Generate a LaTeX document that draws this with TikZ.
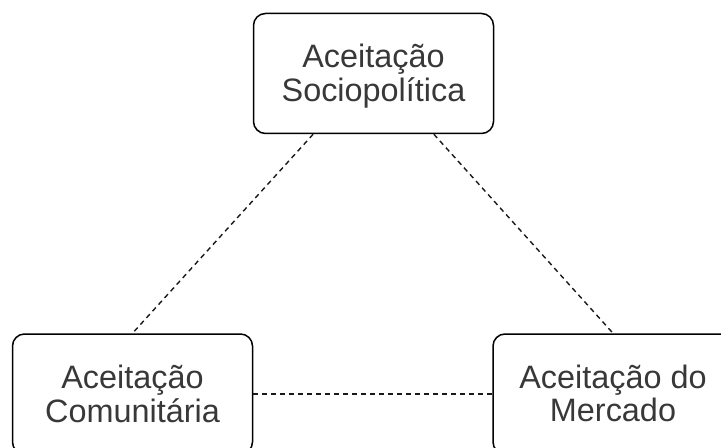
\documentclass[tikz,border=0pt]{standalone}
\usepackage{fontspec}
\setmainfont{Liberation Sans}
\usetikzlibrary{calc}
\newcommand{\twolines}[2]{\raisebox{-6.5pt}[0pt][0pt]{\begin{tabular}{@{}c@{}}#1\\#2\end{tabular}}}
\begin{document}
\begin{tikzpicture}[x=0.5pt,y=-0.5pt,
  box/.style={draw=black, line width=0.75pt, rounded corners=6pt,
    minimum width=120pt, minimum height=60pt, inner sep=0pt, align=center,
    text=black!78, font=\fontsize{16.2}{16.5}\selectfont},
  link/.style={draw=black!90, line width=0.7pt, dash pattern=on 2.5pt off 2pt}]
\useasboundingbox (0,0) rectangle (721,448);
\node[box] (top) at (373.5,73.5) {\twolines{Aceitação}{Sociopolítica}};
\node[box] (com) at (132.5,394) {\twolines{Aceitação}{Comunitária}};
\node[box] (mer) at (613,394) {\twolines{Aceitação do}{Mercado}};
\draw[link] ($(top.south west)!0.25!(top.south east)$) -- (com.north);
\draw[link] ($(top.south west)!0.75!(top.south east)$) -- (mer.north);
\draw[link] (com.east) -- (mer.west);
\end{tikzpicture}
\end{document}
